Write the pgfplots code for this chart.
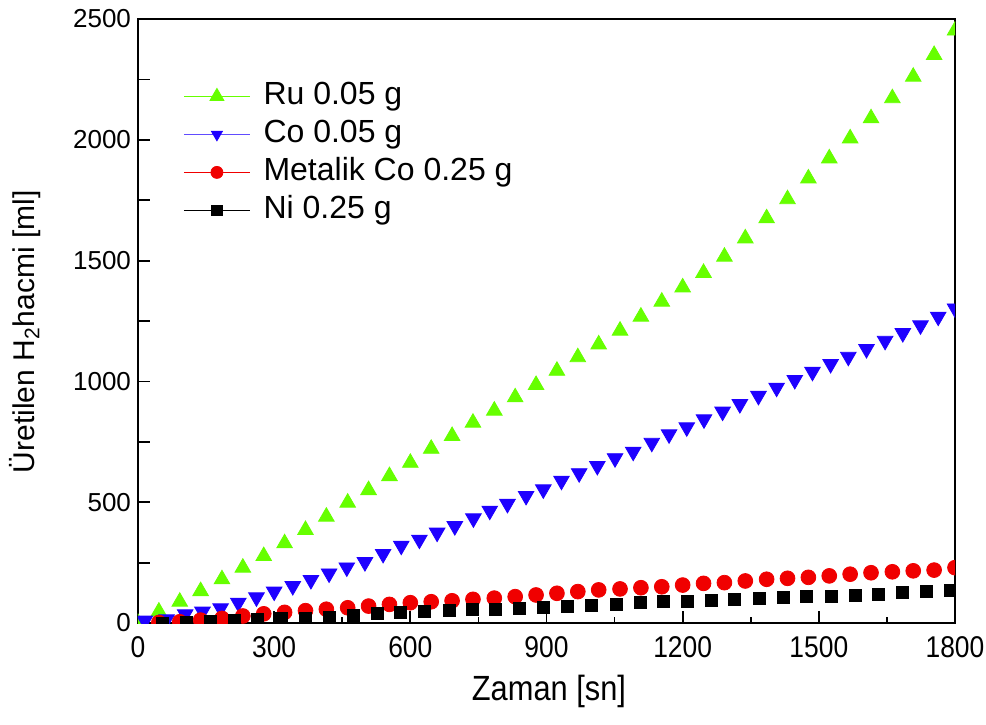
\documentclass[border=0pt]{standalone}
\usepackage{fontspec}
\setmainfont{Liberation Sans}
\newfontfamily\narrowfont[FakeStretch=0.88]{Liberation Sans}
\usepackage{pgfplots}
\pgfplotsset{compat=1.18}
\usetikzlibrary{calc}
\definecolor{rugreen}{RGB}{102,255,0}
\definecolor{coblue}{RGB}{30,0,255}
\definecolor{mred}{RGB}{240,0,0}
\begin{document}
\begin{tikzpicture}
\begin{axis}[
  scale only axis, width=408.5pt, height=302pt,
  xmin=0, xmax=1800, ymin=0, ymax=2500,
  xtick={0,300,...,1800}, ytick={0,500,...,2500},
  minor x tick num=1,
  extra y ticks={250,750,1250,1750,2250}, extra y tick labels={},
  tick align=inside, xtick pos=bottom, ytick pos=left,
  major tick length=6pt, minor tick length=3pt,
  axis line style={line width=1.1pt},
  every tick/.style={black, line width=0.9pt},
  clip marker paths=true,
  /pgf/number format/assume math mode=true,
  /pgf/number format/1000 sep={},
  xticklabel style={font=\narrowfont\fontsize{15}{15}\selectfont, yshift=-3pt},
  yticklabel style={font=\fontsize{13}{13}\selectfont},
  xlabel={Zaman [sn]},
  ylabel={Üretilen H\textsubscript{2}hacmi [ml]},
  xlabel style={font=\narrowfont\fontsize{17.5}{17.5}\selectfont, at={(axis description cs:0.503,-0.114)}, anchor=center},
  ylabel style={font=\fontsize{15}{15}\selectfont, at={(axis description cs:-0.138,0.482)}, anchor=center},
  legend style={at={(axis description cs:0.055,0.899)}, anchor=north west, draw=none, fill=none,
    inner sep=0pt, font=\fontsize{16}{16}\selectfont, row sep=3pt,
    nodes={inner sep=0pt, text height=12pt, text depth=4pt},
    /tikz/every odd column/.append style={column sep=6.5pt}},
  legend cell align=left,
]
\addplot[only marks, mark=triangle*, mark size=4.5pt, color=rugreen,
  legend image code/.code={\draw[rugreen, line width=0.6pt] (0pt,0pt) -- (33pt,0pt);
    \path[draw=rugreen, fill=rugreen] plot[only marks, mark=triangle*, mark size=4pt] coordinates {(16.5pt,0pt)};}]
coordinates {
(0,0) (46,47) (92,88) (138,132) (185,181) (231,229) (277,277) (323,330) (369,385) (415,440)
(462,498) (508,550) (554,608) (600,663) (646,721) (692,774) (738,829) (785,879) (831,934) (877,985)
(923,1044) (969,1100) (1015,1153) (1062,1210) (1108,1268) (1154,1330) (1200,1389) (1246,1449) (1292,1516) (1338,1592)
(1385,1675) (1431,1754) (1477,1840) (1523,1923) (1569,2006) (1615,2089) (1662,2172) (1708,2261) (1754,2351) (1800,2452)
};
\addlegendentry{Ru 0.05 g}
\addplot[only marks, mark=triangle*, mark size=4.5pt, color=coblue, mark options={rotate=180},
  legend image code/.code={\draw[coblue!70, line width=0.6pt] (0pt,0pt) -- (33pt,0pt);
    \path[draw=coblue, fill=coblue] plot[only marks, mark=triangle*, mark size=3.2pt, mark options={rotate=180}] coordinates {(16.5pt,0pt)};}]
coordinates {
(15,10) (63,15) (104,36) (142,47) (182,61) (221,84) (261,106) (300,130) (341,153) (381,178)
(421,205) (460,230) (500,252) (540,286) (580,320) (620,345) (659,374) (698,401) (739,433) (775,465)
(814,493) (855,526) (893,553) (933,589) (972,620) (1012,650) (1051,682) (1091,709) (1132,746) (1170,781)
(1209,810) (1247,843) (1288,875) (1326,906) (1367,940) (1407,974) (1447,1006) (1486,1040) (1526,1072) (1565,1102)
(1605,1134) (1646,1168) (1685,1200) (1724,1232) (1763,1268) (1800,1302)
};
\addlegendentry{Co 0.05 g}
\addplot[only marks, mark=*, mark size=3.7pt, color=mred,
  legend image code/.code={\draw[mred, line width=0.6pt] (0pt,0pt) -- (33pt,0pt);
    \path[draw=mred, fill=mred] plot[only marks, mark=*, mark size=3pt] coordinates {(16.5pt,0pt)};}]
coordinates {
(46,2) (92,5) (138,12) (185,19) (231,29) (277,38) (323,44) (369,51) (415,57) (462,63)
(508,70) (554,77) (600,84) (646,88) (692,92) (738,98) (785,103) (831,109) (877,116) (923,123)
(969,130) (1015,137) (1062,141) (1108,146) (1154,150) (1200,157) (1246,164) (1292,167) (1338,174) (1385,181)
(1431,185) (1477,189) (1523,195) (1569,202) (1615,208) (1662,212) (1708,216) (1754,219) (1800,229)
};
\addlegendentry{Metalik Co 0.25 g}
\addplot[only marks, mark=square*, mark size=3pt, color=black,
  legend image code/.code={\draw[black, line width=0.6pt] (0pt,0pt) -- (33pt,0pt);
    \path[draw=black, fill=black] plot[only marks, mark=square*, mark size=2.6pt] coordinates {(16.5pt,0pt)};}]
coordinates {
(53,0) (106,2) (159,5) (212,9) (264,13) (317,18) (369,21) (421,25) (474,32) (527,38)
(579,43) (630,49) (686,53) (737,55) (787,58) (840,62) (894,64) (947,68) (998,72) (1053,77)
(1106,84) (1157,88) (1210,91) (1264,95) (1315,98) (1368,100) (1422,105) (1473,109) (1527,112) (1580,116)
(1631,119) (1685,125) (1738,130) (1789,134)
};
\addlegendentry{Ni 0.25 g}
\end{axis}
\pgfresetboundingbox
\path[use as bounding box] ($(current axis.south west)+(-69pt,-50.5pt)$) rectangle ($(current axis.north east)+(15.5pt,9.5pt)$);
\end{tikzpicture}
\end{document}
